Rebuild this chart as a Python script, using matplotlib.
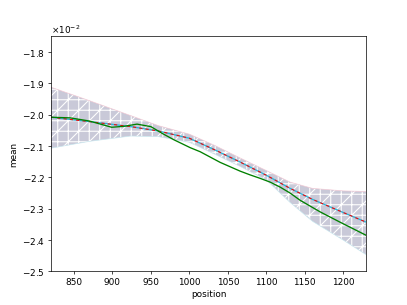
import matplotlib
matplotlib.use("Agg")
import matplotlib.pyplot as plt
import numpy as np

# values in units of 1e-2
band_x = [820, 870, 924, 960, 1000, 1033, 1066, 1100, 1131, 1160, 1200, 1230]
mean_pred = [-2.008, -2.022, -2.038, -2.052, -2.075, -2.112, -2.151, -2.193, -2.235, -2.27, -2.312, -2.343]
band_upper = [-1.912, -1.955, -2.003, -2.035, -2.062, -2.098, -2.138, -2.178, -2.215, -2.235, -2.243, -2.245]
band_lower = [-2.107, -2.085, -2.068, -2.07, -2.088, -2.126, -2.165, -2.208, -2.28, -2.34, -2.40, -2.447]

obs_x = [820, 845, 870, 899, 915, 932, 950, 965, 980, 1001, 1014, 1027, 1040, 1053, 1066,
         1079, 1092, 1105, 1118, 1131, 1144, 1170, 1196, 1230]
obs_y = [-2.008, -2.010, -2.020, -2.040, -2.037, -2.030, -2.038, -2.060, -2.080, -2.105,
         -2.118, -2.135, -2.152, -2.166, -2.180, -2.192, -2.203, -2.215, -2.231, -2.25,
         -2.273, -2.31, -2.343, -2.385]

scale = 1e-2
bx = np.array(band_x)
m = np.array(mean_pred) * scale
up = np.array(band_upper) * scale
lo = np.array(band_lower) * scale
ox = np.array(obs_x)
oy = np.array(obs_y) * scale

plt.rcParams['hatch.linewidth'] = 1.2
fig, ax = plt.subplots(figsize=(6.4, 4.8), dpi=407 / 6.4)
ax.fill_between(bx, lo, up, facecolor='#c9c9d8', edgecolor='white', hatch='/+', linewidth=0)
ax.plot(bx, up, color='#f4c4d0', lw=0.8, alpha=0.8)
ax.plot(bx, lo, color='#c4e8f0', lw=0.8, alpha=0.8)
ax.plot(bx, m, color='#2bb5d8', lw=1.5)
ax.plot(bx, m, color='red', lw=1.2, ls=(0, (3, 3)))
ax.plot(ox, oy, color='green', lw=1.5)

ax.set_xlim(820, 1230)
ax.set_ylim(-0.025, -0.0175)
ax.set_yticks(np.arange(-0.025, -0.01799, 0.001))
ax.ticklabel_format(axis='y', style='sci', scilimits=(0, 0), useMathText=True)
ax.set_xlabel('position')
ax.set_ylabel('mean')
fig.savefig('out.png', dpi=407 / 6.4)
